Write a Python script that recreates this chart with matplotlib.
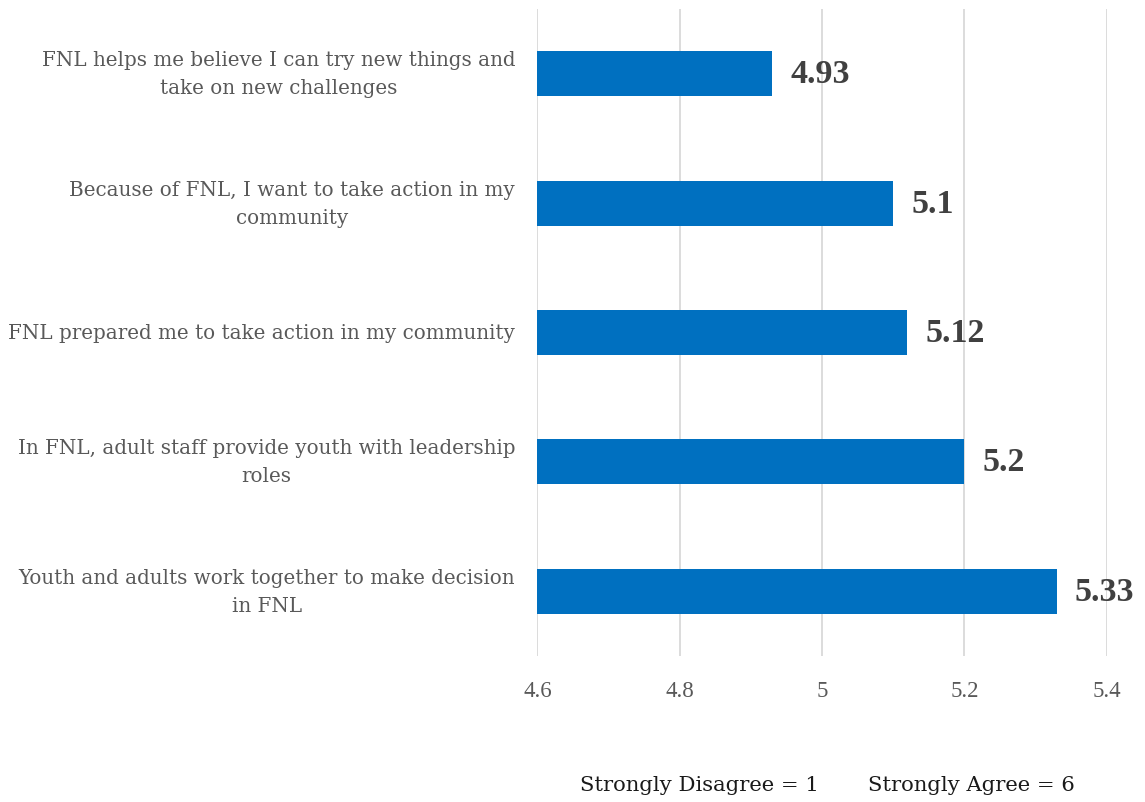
import numpy as np
import matplotlib
matplotlib.use("Agg")
import matplotlib.pyplot as plt

# Survey items (bottom to top) and their mean scores
statements = [
    "Youth and adults work together to make decision\nin FNL",
    "In FNL, adult staff provide youth with leadership\nroles",
    "FNL prepared me to take action in my community",
    "Because of FNL, I want to take action in my\ncommunity",
    "FNL helps me believe I can try new things and\ntake on new challenges",
]
means = [5.33, 5.2, 5.12, 5.1, 4.93]
xticks = [4.6, 4.8, 5.0, 5.2, 5.4]
xtick_labels = ["4.6", "4.8", "5", "5.2", "5.4"]

BAR_COLOR = "#0070C0"
LABEL_COLOR = "#595959"
VALUE_COLOR = "#404040"
SERIF = "DejaVu Serif"

fig = plt.figure(figsize=(11.45, 8.03), dpi=100)
ax = fig.add_axes([0.4693, 0.1818, 0.4973, 0.8057])

y = np.arange(len(statements))
ax.barh(y, np.array(means) - 4.6, left=4.6, height=0.348, color=BAR_COLOR, zorder=3)

for yi, v in zip(y, means):
    ax.text(v + 0.025, yi, f"{v:g}", va="center", ha="left",
            fontsize=24.5, fontweight="bold", color=VALUE_COLOR,
            family="Liberation Serif", clip_on=False)

ax.set_xlim(4.6, 5.4)
ax.set_ylim(-0.5, len(statements) - 0.5)
ax.set_xticks(xticks)
ax.set_xticklabels(xtick_labels, fontsize=16.5, color=LABEL_COLOR, family="Liberation Serif")
ax.set_yticks(y)
ax.set_yticklabels(statements, fontsize=14.3, color=LABEL_COLOR, family=SERIF,
                   multialignment="center", linespacing=1.6)
for lbl in ax.get_yticklabels():
    lbl.set_va("center")
ax.tick_params(axis="x", length=0, pad=17)
ax.tick_params(axis="y", length=0, pad=16)
ax.grid(axis="x", color="#D9D9D9", linewidth=1.3, zorder=0)
for s in ax.spines.values():
    s.set_visible(False)

fig.text(580 / 1145, 1 - 786 / 803, "Strongly Disagree = 1", fontsize=15.2,
         color="#1a1a1a", family=SERIF, ha="left", va="center")
fig.text(868 / 1145, 1 - 786 / 803, "Strongly Agree = 6", fontsize=15.2,
         color="#1a1a1a", family=SERIF, ha="left", va="center")

fig.savefig("out.png", dpi=100)
